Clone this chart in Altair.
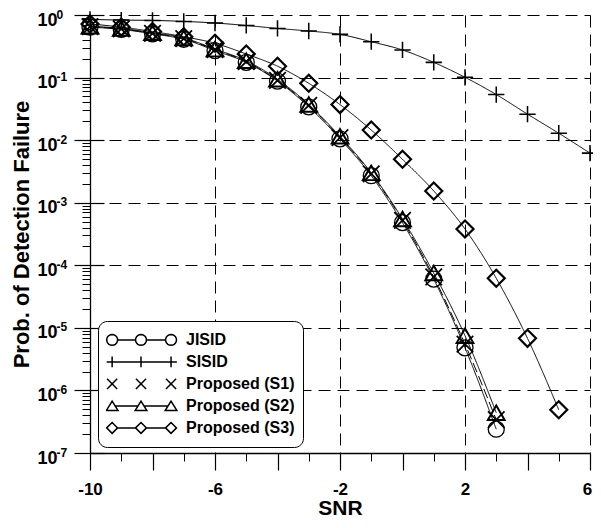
import math
import altair as alt
import pandas as pd

# ---------------- data ----------------
series_names = ["JISID", "SISID", "Proposed (S1)", "Proposed (S2)", "Proposed (S3)"]

snr_jisid = list(range(-10, 4))
p_jisid = [0.64, 0.59, 0.50, 0.41, 0.27, 0.175, 0.088, 0.034, 0.0105, 0.0027,
           4.8e-4, 6.0e-5, 4.8e-6, 2.4e-7]

snr_sisid = list(range(-10, 7))
p_sisid = [0.85, 0.83, 0.82, 0.79, 0.745, 0.68, 0.61, 0.555, 0.49, 0.374,
           0.276, 0.175, 0.101, 0.0536, 0.026, 0.0129, 0.0062]

snr_s1 = list(range(-10, 4))
p_s1 = [0.65, 0.60, 0.51, 0.42, 0.28, 0.18, 0.09, 0.036, 0.011, 0.0029,
        5.2e-4, 6.5e-5, 5.5e-6, 3.4e-7]

snr_s2 = list(range(-10, 4))
p_s2 = [0.66, 0.61, 0.52, 0.43, 0.285, 0.185, 0.094, 0.037, 0.0115, 0.003,
        5.5e-4, 7.5e-5, 7.5e-6, 4.4e-7]

snr_s3 = list(range(-10, 6))
p_s3 = [0.72, 0.64, 0.545, 0.45, 0.353, 0.238, 0.152, 0.081, 0.037, 0.0145,
        4.94e-3, 1.54e-3, 3.8e-4, 6.2e-5, 6.8e-6, 4.9e-7]

x_major = [-10, -6, -2, 2, 6]
x_even = [-8, -4, 0, 4]
x_odd = [-9, -7, -5, -3, -1, 1, 3, 5]
y_decades = [1e-7, 1e-6, 1e-5, 1e-4, 1e-3, 1e-2, 1e-1, 1.0]
y_minor = [m * 10.0 ** k for k in range(-7, 0) for m in range(2, 10)]

rows = []
for name, xs, ps in zip(series_names,
                        [snr_jisid, snr_sisid, snr_s1, snr_s2, snr_s3],
                        [p_jisid, p_sisid, p_s1, p_s2, p_s3]):
    for x, p in zip(xs, ps):
        rows.append({"snr": x, "p": p, "series": name})
df = pd.DataFrame(rows)

# ---------------- marker shapes ----------------
plot_shapes = ["circle", "M-1,0L1,0M0,-1L0,1", "M-1,-1L1,1M-1,1L1,-1",
               "triangle-up", "diamond"]
plot_sizes = [256, 289, 225, 225, 225]
plot_widths = [1.3, 2.2, 2.2, 1.3, 1.3]
line_dashes = [[1, 0], [1, 0], [10, 4], [1, 0], [1, 0]]

C = [-0.74, 0.0, 0.77]
R = 0.14


def f(v):
    return f"{v:.3f}"


def circle_path(c, r):
    pts = []
    for i in range(20):
        a = 2 * math.pi * i / 20
        pts.append((c + r * math.cos(a), r * math.sin(a)))
    return "M" + "L".join(f"{f(x)},{f(y)}" for x, y in pts) + "Z"


def seg(a, b):
    return f"M{f(a)},0L{f(b)},0"


leg_jisid = "".join(circle_path(c, R) for c in C) + seg(C[0] + R, C[1] - R) + seg(C[1] + R, C[2] - R)
leg_sisid = seg(-0.88, 0.92) + "".join(f"M{f(c)},{f(-R)}L{f(c)},{f(R)}" for c in C)
leg_s1 = "".join(
    f"M{f(c - 0.13)},-0.13L{f(c + 0.13)},0.13M{f(c - 0.13)},0.13L{f(c + 0.13)},-0.13" for c in C)
leg_s2 = "".join(
    f"M{f(c)},-0.12L{f(c - 0.15)},0.12L{f(c + 0.15)},0.12Z" for c in C) + seg(C[0] + 0.075, C[1] - 0.075) + seg(C[1] + 0.075, C[2] - 0.075)
leg_s3 = "".join(
    f"M{f(c - R)},0L{f(c)},{f(-R)}L{f(c + R)},0L{f(c)},{f(R)}Z" for c in C) + seg(C[0] + R, C[1] - R) + seg(C[1] + R, C[2] - R)
legend_shapes = [leg_jisid, leg_sisid, leg_s1, leg_s2, leg_s3]

FONT = "Liberation Sans"

xscale = alt.Scale(domain=[-10, 6], nice=False, zero=False)
yscale = alt.Scale(type="log", domain=[1e-7, 1], nice=False)

# ---------------- layers ----------------
lines = alt.Chart(df).mark_line(color="black", strokeWidth=1, interpolate="monotone").encode(
    x=alt.X("snr:Q", scale=xscale, axis=alt.Axis(
        values=x_major, grid=True, gridDash=[12, 7], gridColor="black", gridWidth=1,
        tickSize=17, tickWidth=1.2, tickColor="black", domainColor="black", domainWidth=1.3,
        labelExpr="toString(datum.value)", labelFont=FONT, labelFontSize=17,
        labelFontWeight="bold", labelPadding=11, labelColor="black", labelFlush=False,
        labelOffset={"condition": {"test": "datum.value == 6", "value": -3}, "value": 0},
        title="SNR", titleFont=FONT, titleFontSize=21, titleFontWeight="bold",
        titleColor="black", titlePadding=0, orient="bottom")),
    y=alt.Y("p:Q", scale=yscale, axis=alt.Axis(
        values=y_decades, grid=True, gridDash=[12, 7], gridColor="black", gridWidth=1,
        tickSize=16, tickWidth=1.2, tickColor="black", domainColor="black", domainWidth=1.3,
        labelExpr="'10'", labelFont=FONT, labelFontSize=18, labelFontWeight="bold",
        labelPadding=17, labelColor="black", labelOffset=5, labelFlush=False,
        title="Prob. of Detection Failure", titleFont=FONT, titleFontSize=22,
        titleFontWeight="bold", titleColor="black", titlePadding=3, orient="left")),
    detail="series:N",
    strokeDash=alt.StrokeDash("series:N", scale=alt.Scale(domain=series_names, range=line_dashes),
                              legend=None),
)

points = alt.Chart(df).mark_point(filled=False, color="black", opacity=1).encode(
    x=alt.X("snr:Q", scale=xscale, axis=alt.Axis(
        values=x_even, grid=False, tickSize=17, tickWidth=1.2, tickColor="black",
        labels=False, domain=False, title=None, orient="bottom")),
    y=alt.Y("p:Q", scale=yscale, axis=alt.Axis(
        values=y_minor, grid=False, tickSize=8, tickWidth=1, tickColor="black",
        labels=False, domain=False, title=None, orient="left")),
    shape=alt.Shape("series:N", scale=alt.Scale(domain=series_names, range=plot_shapes), legend=None),
    size=alt.Size("series:O", scale=alt.Scale(domain=series_names, range=plot_sizes), legend=None),
    strokeWidth=alt.StrokeWidth("series:O", scale=alt.Scale(domain=series_names, range=plot_widths),
                                legend=None),
)

legend_layer = alt.Chart(df).mark_point(filled=False, color="black", opacity=0).encode(
    x=alt.X("snr:Q", scale=xscale, axis=alt.Axis(
        values=x_odd, grid=False, tickSize=8, tickWidth=1, tickColor="black",
        labels=False, domain=False, title=None, orient="bottom")),
    y=alt.Y("p:Q", scale=yscale, axis=alt.Axis(
        values=y_decades, grid=False, tickSize=14, tickWidth=1.2, tickColor="black",
        offset=-14, domain=False, title=None, orient="left",
        labelExpr="'' + round(log(datum.value) / LN10)", labelAlign="left",
        labelFont=FONT, labelFontSize=12, labelFontWeight="bold", labelColor="black",
        labelPadding=34, labelOffset=-1, labelFlush=False)),
    shape=alt.Shape("series:N", scale=alt.Scale(domain=series_names, range=legend_shapes),
                    legend=alt.Legend(
                        orient="none", legendX=8, legendY=306, title=None,
                        padding=8, strokeColor="black", cornerRadius=9, fillColor="white",
                        symbolSize=6084, symbolStrokeWidth=1.5, symbolStrokeColor="black",
                        symbolFillColor="transparent", symbolOpacity=1,
                        clipHeight=21.8, rowPadding=0, symbolOffset=-5, labelOffset=5,
                        labelFont=FONT, labelFontSize=16, labelFontWeight="bold",
                        labelColor="black", labelLimit=0)),
)

chart = alt.layer(lines, points, legend_layer).resolve_scale(
    shape="independent"
).resolve_axis(
    x="independent", y="independent"
).properties(
    width=500, height=438,
    padding={"left": 82, "top": 7, "right": 3, "bottom": 64},
    autosize=alt.AutoSizeParams(type="none"),
    background="white",
).configure_view(stroke=None)

chart.save("out.html", embed_options={"renderer": "svg", "actions": False})
